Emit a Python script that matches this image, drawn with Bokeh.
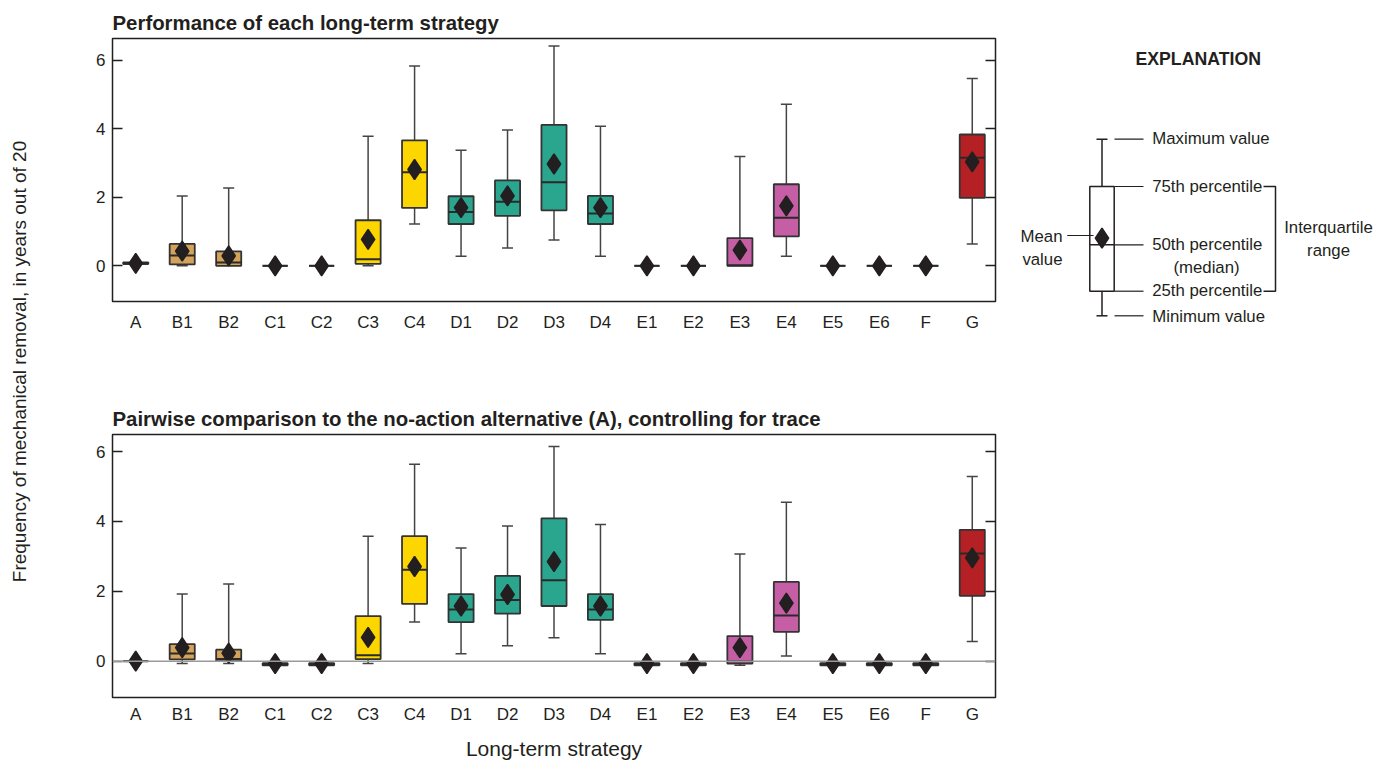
import math
from bokeh.plotting import figure
from bokeh.models import (FactorRange, Range1d, LinearAxis, FixedTicker, Span,
                          CustomJSTickFormatter, ColumnDataSource)
from bokeh.layouts import row, column
from bokeh.embed import file_html
from bokeh.resources import INLINE
from bokeh.core.properties import value

# ---------------- data ----------------
cats = ["A", "B1", "B2", "C1", "C2", "C3", "C4", "D1", "D2", "D3", "D4",
        "E1", "E2", "E3", "E4", "E5", "E6", "F", "G"]
groups = ["A", "B", "B", "C", "C", "C", "C", "D", "D", "D", "D",
          "E", "E", "E", "E", "E", "E", "F", "G"]
group_colors = {"A": "#9A9A9A", "B": "#D3A35C", "C": "#FDD600", "D": "#2AA68F",
                "E": "#C65EA6", "F": "#6E8F4A", "G": "#B52025"}

# Performance of each long-term strategy
t_min = [0.05, 0.00, 0.00, 0, 0, 0.00, 1.22, 0.28, 0.52, 0.75, 0.28, 0, 0, 0.00, 0.28, 0, 0, 0, 0.64]
t_q1 = [0.05, 0.04, 0.00, 0, 0, 0.06, 1.69, 1.22, 1.46, 1.62, 1.22, 0, 0, 0.00, 0.86, 0, 0, 0, 1.98]
t_med = [0.08, 0.30, 0.10, 0, 0, 0.19, 2.73, 1.57, 1.87, 2.44, 1.53, 0, 0, 0.02, 1.40, 0, 0, 0, 3.15]
t_q3 = [0.10, 0.64, 0.42, 0, 0, 1.33, 3.66, 2.03, 2.49, 4.11, 2.04, 0, 0, 0.81, 2.38, 0, 0, 0, 3.83]
t_max = [0.10, 2.04, 2.27, 0, 0, 3.78, 5.83, 3.37, 3.96, 6.41, 4.07, 0, 0, 3.19, 4.71, 0, 0, 0, 5.46]
t_mean = [0.07, 0.43, 0.29, 0, 0, 0.77, 2.81, 1.70, 2.04, 2.97, 1.70, 0, 0, 0.46, 1.75, 0, 0, 0, 3.03]

# Pairwise comparison to the no-action alternative (A)
b_min = [0, -0.07, -0.07, -0.12, -0.12, -0.07, 1.12, 0.21, 0.44, 0.67, 0.21, -0.12, -0.12, -0.12, 0.15, -0.12, -0.12, -0.12, 0.56]
b_q1 = [0, 0.05, 0.00, -0.12, -0.12, 0.06, 1.64, 1.12, 1.36, 1.58, 1.18, -0.12, -0.12, -0.07, 0.84, -0.12, -0.12, -0.12, 1.87]
b_med = [0, 0.22, 0.06, -0.09, -0.09, 0.17, 2.62, 1.48, 1.75, 2.32, 1.48, -0.09, -0.09, 0.00, 1.31, -0.09, -0.09, -0.09, 3.08]
b_q3 = [0, 0.49, 0.33, -0.06, -0.06, 1.29, 3.58, 1.92, 2.44, 4.09, 1.92, -0.06, -0.06, 0.72, 2.27, -0.06, -0.06, -0.06, 3.76]
b_max = [0, 1.92, 2.21, -0.06, -0.06, 3.58, 5.64, 3.24, 3.87, 6.15, 3.91, -0.06, -0.06, 3.07, 4.55, -0.06, -0.06, -0.06, 5.29]
b_mean = [0, 0.39, 0.23, -0.07, -0.07, 0.68, 2.71, 1.58, 1.91, 2.85, 1.58, -0.07, -0.07, 0.39, 1.66, -0.07, -0.07, -0.07, 2.96]

y_ticks = [0, 2, 4, 6]

NARROW = "'Liberation Sans Narrow', 'Arial Narrow', 'Liberation Sans', sans-serif"
REG = "'Liberation Sans', Arial, sans-serif"
INK = "#231F20"
EDGE = "#333333"


def panel(title, mins, q1, med, q3, maxs, means, y0, y1, height, top_b, bottom_b,
          label_standoff, xlabel=None, zero_line=False):
    colors = [group_colors[g] for g in groups]
    src = ColumnDataSource(dict(cat=cats, mn=mins, q1=q1, med=med, q3=q3, mx=maxs,
                                mean=means, color=colors))
    top_caps = ColumnDataSource(dict(cat=[c for c, a, b in zip(cats, q3, maxs) if b > a + 1e-9],
                                     y=[b for a, b in zip(q3, maxs) if b > a + 1e-9]))
    bot_caps = ColumnDataSource(dict(cat=[c for c, a, b in zip(cats, q1, mins) if b < a - 1e-9],
                                     y=[b for a, b in zip(q1, mins) if b < a - 1e-9]))
    p = figure(width=959, height=height, x_range=FactorRange(*cats), y_range=Range1d(y0, y1),
               output_backend="svg", toolbar_location=None,
               min_border_left=64, min_border_right=12, min_border_top=top_b,
               min_border_bottom=bottom_b)
    p.title.text = title
    p.title.align = "left"
    p.title.text_font = NARROW
    p.title.text_font_style = "bold"
    p.title.text_font_size = "20.4px"
    p.title.text_color = INK
    p.title.standoff = 10
    p.grid.visible = False
    p.outline_line_color = INK
    p.outline_line_width = 1.5
    p.background_fill_color = "white"
    p.border_fill_color = "white"

    p.yaxis.ticker = FixedTicker(ticks=y_ticks)
    p.yaxis.major_tick_in = 10
    p.yaxis.major_tick_out = 0
    p.yaxis.minor_tick_line_color = None
    p.yaxis.axis_line_color = None
    p.yaxis.major_tick_line_color = INK
    p.yaxis.major_tick_line_width = 1.5
    p.yaxis.major_label_standoff = 7
    p.yaxis.major_label_text_font = NARROW
    p.yaxis.major_label_text_font_size = "17px"
    p.yaxis.major_label_text_color = INK

    ax = LinearAxis(ticker=FixedTicker(ticks=y_ticks),
                    formatter=CustomJSTickFormatter(code="return ''"),
                    major_tick_in=10, major_tick_out=0, axis_line_color=None,
                    minor_tick_line_color=None, major_tick_line_color=INK,
                    major_tick_line_width=1.5, major_label_standoff=0)
    p.add_layout(ax, "right")

    p.xaxis.major_tick_line_color = None
    p.xaxis.minor_tick_line_color = None
    p.xaxis.axis_line_color = None
    p.xaxis.major_label_standoff = label_standoff
    p.xaxis.major_label_text_font = NARROW
    p.xaxis.major_label_text_font_size = "17px"
    p.xaxis.major_label_text_color = INK
    if xlabel:
        p.xaxis.axis_label = xlabel
        p.xaxis.axis_label_text_font = REG
        p.xaxis.axis_label_text_font_style = "normal"
        p.xaxis.axis_label_text_font_size = "21px"
        p.xaxis.axis_label_text_color = INK
        p.xaxis.axis_label_standoff = 10

    if zero_line:
        p.add_layout(Span(location=0, dimension="width", line_color="#9A9A9A", line_width=1.5))

    p.segment(x0="cat", y0="q3", x1="cat", y1="mx", source=src, line_color="#444444", line_width=1.5)
    p.segment(x0="cat", y0="mn", x1="cat", y1="q1", source=src, line_color="#444444", line_width=1.5)
    p.scatter(x="cat", y="y", source=top_caps, marker="dash", size=11, line_color="#444444", line_width=1.5)
    p.scatter(x="cat", y="y", source=bot_caps, marker="dash", size=11, line_color="#444444", line_width=1.5)
    p.vbar(x="cat", bottom="q1", top="q3", width=0.54, source=src, fill_color="color",
           line_color=EDGE, line_width=1.8)
    p.vbar(x="cat", bottom="med", top="med", width=0.54, source=src, fill_color=None,
           line_color="#2A2A2A", line_width=2)
    p.scatter(x="cat", y="mean", source=src, marker="diamond", size=20,
              fill_color=INK, line_color=INK, line_width=1.5)
    return p


p_top = panel("Performance of each long-term strategy", t_min, t_q1, t_med, t_q3, t_max, t_mean,
              -1.04, 6.63, 356, 38, 55, 5)
p_bot = panel("Pairwise comparison to the no-action alternative (A), controlling for trace",
              b_min, b_q1, b_med, b_q3, b_max, b_mean, -1.04, 6.49, 407, 78, 66, 1,
              xlabel="Long-term strategy", zero_line=True)

# ---------------- shared y-axis label ----------------
ylab = figure(width=48, height=763, x_range=Range1d(0, 48), y_range=Range1d(0, 763),
              output_backend="svg", toolbar_location=None, min_border=0,
              x_axis_location=None, y_axis_location=None)
ylab.grid.visible = False
ylab.outline_line_color = None
ylab.text(x=[18.5], y=[402], text=["Frequency of mechanical removal, in years out of 20"],
          angle=math.pi / 2, text_align="center", text_baseline="middle",
          text_font=value(REG), text_font_size="19px", text_color=INK)

# ---------------- explanation (schematic legend) ----------------
lg = figure(width=375, height=356, x_range=Range1d(1007, 1382), y_range=Range1d(356, 0),
            output_backend="svg", toolbar_location=None, min_border=0,
            x_axis_location=None, y_axis_location=None)
lg.grid.visible = False
lg.outline_line_color = None
bx_l, bx_r, bx_c = 1089.3, 1113.7, 1101.5
y_max, y_q3, y_med, y_q1, y_min = 138.7, 186.0, 244.3, 290.7, 315.3
lg.text(x=[1197.7], y=[58], text=["EXPLANATION"], text_align="center", text_baseline="middle",
        text_font=value(NARROW), text_font_style="bold", text_font_size="17.7px", text_color=INK)
lg.segment(x0=[bx_c, bx_c], y0=[y_max, y_q1], x1=[bx_c, bx_c], y1=[y_q3, y_min],
           line_color=INK, line_width=1.5)
lg.segment(x0=[1096, 1096], y0=[y_max, y_min], x1=[1107, 1107], y1=[y_max, y_min],
           line_color=INK, line_width=1.5)
lg.quad(left=[bx_l], right=[bx_r], top=[y_q3], bottom=[y_q1], fill_color="white",
        line_color=INK, line_width=1.5)
lg.segment(x0=[bx_l], y0=[y_med], x1=[bx_r], y1=[y_med], line_color=INK, line_width=1.5)
lg.scatter(x=[bx_c], y=[237.7], marker="diamond", size=20, fill_color=INK, line_color=INK,
           line_width=1.5)
lead_y = [y_max, y_q3, y_med, y_q1, y_min]
lg.segment(x0=[1114] * 5, y0=lead_y, x1=[1143] * 5, y1=lead_y, line_color=INK, line_width=1.2)
lg.segment(x0=[1066.7], y0=[235], x1=[1093], y1=[235], line_color=INK, line_width=1.2)
lg.line(x=[1263, 1275, 1275, 1263], y=[y_q3, y_q3, y_q1, y_q1], line_color=INK, line_width=1.5)
lg.text(x=[1151.7] * 4, y=[138, 186, 244, 290], text=["Maximum value", "75th percentile",
                                                     "50th percentile", "25th percentile"],
        text_align="left", text_baseline="middle", text_font=value(REG),
        text_font_size="16.8px", text_color=INK)
lg.text(x=[1151.7], y=[315.7], text=["Minimum value"], text_align="left", text_baseline="middle",
        text_font=value(REG), text_font_size="16.8px", text_color=INK)
lg.text(x=[1206], y=[267], text=["(median)"], text_align="center", text_baseline="middle",
        text_font=value(REG), text_font_size="16.8px", text_color=INK)
lg.text(x=[1062, 1062], y=[236, 258.5], text=["Mean", "value"], text_align="right",
        text_baseline="middle", text_font=value(REG), text_font_size="16.8px", text_color=INK)
lg.text(x=[1328, 1328], y=[227, 250], text=["Interquartile", "range"], text_align="center",
        text_baseline="middle", text_font=value(REG), text_font_size="16.8px", text_color=INK)

layout = row(ylab, column(p_top, p_bot), lg)
open("out.html", "w").write(file_html(layout, INLINE))
